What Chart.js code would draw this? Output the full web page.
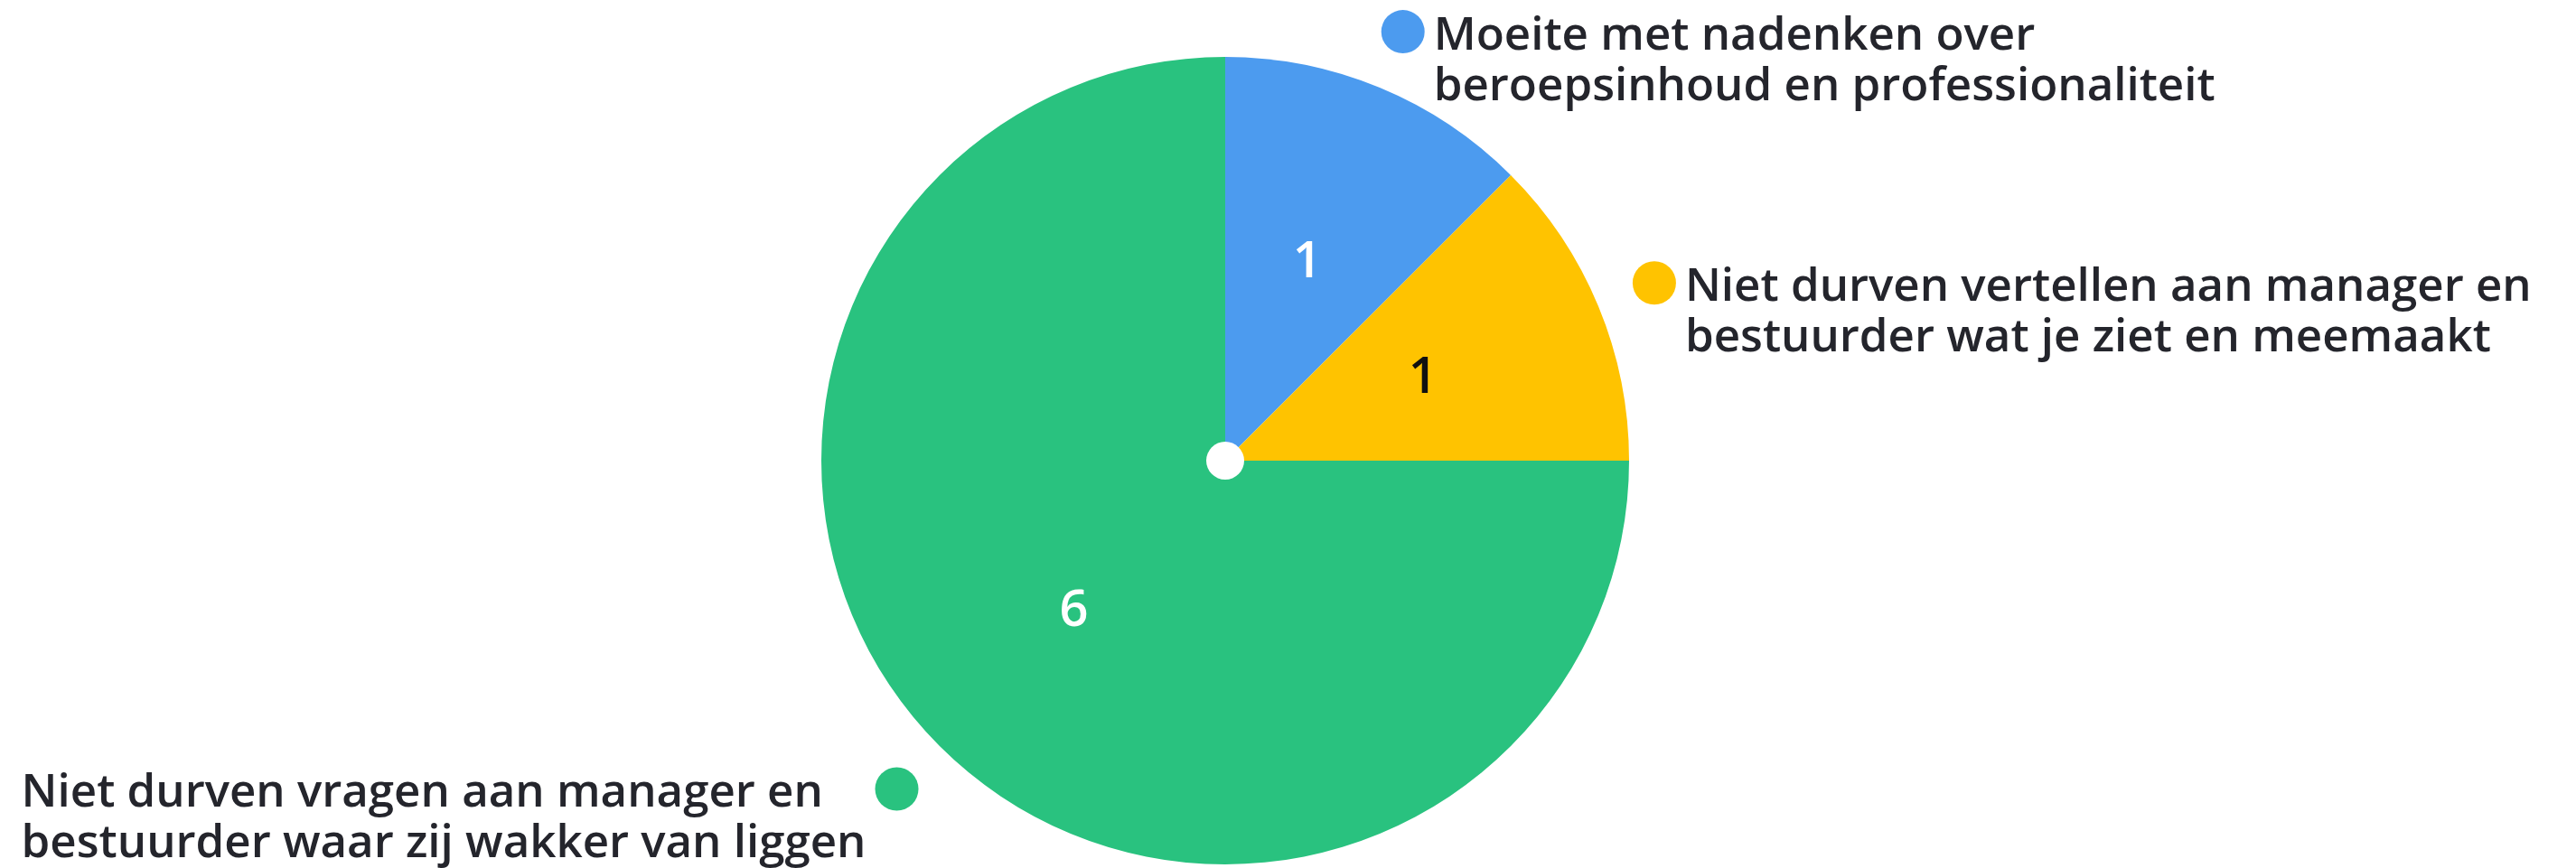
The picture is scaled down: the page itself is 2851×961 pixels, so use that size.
<!DOCTYPE html>
<html>
<head>
<meta charset="utf-8">
<script src="https://cdn.jsdelivr.net/npm/chart.js@4.4.1/dist/chart.umd.min.js"></script>
<style>
  html, body { margin: 0; padding: 0; background: #ffffff; }
  #wrap { width: 2851px; height: 961px; position: relative; }
</style>
</head>
<body>
<div id="wrap"><canvas id="chart"></canvas></div>
<script>
const labels = [
  ["Moeite met nadenken over", "beroepsinhoud en professionaliteit"],
  ["Niet durven vertellen aan manager en", "bestuurder wat je ziet en meemaakt"],
  ["Niet durven vragen aan manager en", "bestuurder waar zij wakker van liggen"]
];
const values = [1, 1, 6];
const colors = ["#4c9bef", "#ffc300", "#29c27f"];
const valueColors = ["#ffffff", "#101010", "#ffffff"];

const FONT = "'Open Sans', Lato, sans-serif";

// draws value numbers inside slices, the outside labels with their dots, and the center dot
const sliceLabels = {
  id: "sliceLabels",
  afterDraw(chart) {
    const ctx = chart.ctx;
    const meta = chart.getDatasetMeta(0);
    meta.data.forEach((arc, i) => {
      const mid = (arc.startAngle + arc.endAngle) / 2;
      const r = arc.outerRadius;
      const cos = Math.cos(mid), sin = Math.sin(mid);

      // value inside the slice
      ctx.save();
      ctx.font = "600 56px " + FONT;
      ctx.fillStyle = valueColors[i];
      ctx.textAlign = "center";
      ctx.textBaseline = "middle";
      ctx.fillText(String(values[i]), arc.x + cos * r * 0.53, arc.y + sin * r * 0.53);
      ctx.restore();

      // dot outside
      const dx = arc.x + cos * r * 1.15;
      const dy = arc.y + sin * r * 1.15;
      ctx.save();
      ctx.beginPath();
      ctx.arc(dx, dy, 24, 0, Math.PI * 2);
      ctx.fillStyle = colors[i];
      ctx.fill();

      // label text
      ctx.font = "600 51px " + FONT;
      ctx.fillStyle = "#24252c";
      ctx.textBaseline = "middle";
      ctx.textAlign = "left";
      const lines = labels[i];
      const lh = 56;
      let tx;
      if (cos >= 0) {
        tx = dx + 24 + 10;
      } else {
        const w = Math.max(...lines.map(l => ctx.measureText(l).width));
        tx = dx - 24 - 10 - w;
      }
      lines.forEach((l, k) => ctx.fillText(l, tx, dy + 5 + k * lh));
      ctx.restore();
    });

    // white dot in the middle
    const a = meta.data[0];
    ctx.save();
    ctx.beginPath();
    ctx.arc(a.x, a.y, 21, 0, Math.PI * 2);
    ctx.fillStyle = "#ffffff";
    ctx.fill();
    ctx.restore();
  }
};

const data = {
  labels: labels,
  datasets: [
    {
      data: values,
      backgroundColor: colors,
      borderWidth: 0
    }
  ]
};

const config = {
  type: "pie",
  data: data,
  options: {
    responsive: true,
    maintainAspectRatio: false,
    animation: false,
    layout: {
      padding: { top: 63, bottom: 4, left: 0, right: 139 }
    },
    plugins: {
      legend: { display: false },
      tooltip: { enabled: false }
    }
  },
  plugins: [sliceLabels]
};

const ctx = document.getElementById("chart").getContext("2d");
new Chart(ctx, config);
</script>
</body>
</html>
